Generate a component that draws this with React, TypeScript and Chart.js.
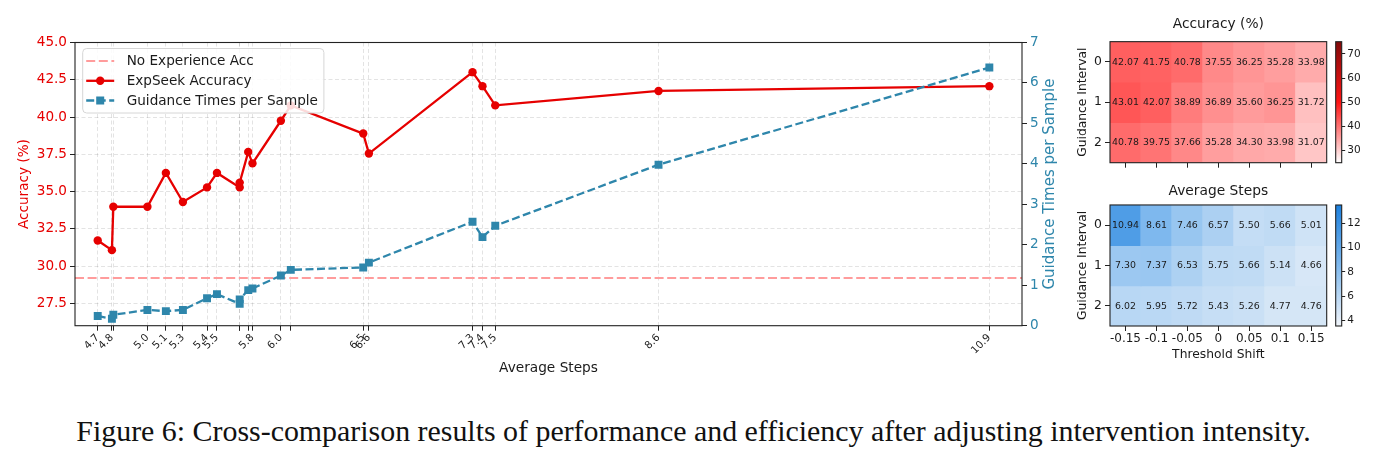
import React, { useEffect, useRef } from "react";
import { Chart, registerables } from "chart.js";

Chart.register(...registerables);

const FONT = "'DejaVu Sans', 'Noto Sans', sans-serif";
Chart.defaults.font.family = FONT;

// ---------------- line chart data ----------------
const avgSteps = [4.66, 4.76, 4.77, 5.01, 5.14, 5.26, 5.43, 5.5, 5.66, 5.66, 5.72, 5.75, 5.95, 6.02, 6.53, 6.57, 7.3, 7.37, 7.46, 8.61, 10.94];
const expSeekAccuracy = [31.72, 31.07, 33.98, 33.98, 36.25, 34.3, 35.28, 36.25, 35.28, 35.6, 37.66, 36.89, 39.75, 40.78, 38.89, 37.55, 43.01, 42.07, 40.78, 41.75, 42.07];
const guidanceTimes = [0.24, 0.17, 0.27, 0.39, 0.36, 0.39, 0.68, 0.78, 0.54, 0.65, 0.88, 0.92, 1.24, 1.38, 1.44, 1.56, 2.57, 2.19, 2.47, 3.98, 6.38];
const stepTickLabels = ["4.7", "4.8", "", "5.0", "5.1", "5.3", "5.4", "5.5", "", "", "", "5.8", "6.0", "", "6.5", "6.6", "7.3", "7.4", "7.5", "8.6", "10.9"];
const noExperienceAcc = 29.2;
const accuracyTicks = [27.5, 30, 32.5, 35, 37.5, 40, 42.5, 45];
const guidanceTicks = [0, 1, 2, 3, 4, 5, 6, 7];
const accuracyAxisRange = [26, 45];
const guidanceAxisRange = [0, 7];
const stepsAxisRange = [4.5, 11.17];

const LABEL_NO_EXP = "No Experience Acc";
const LABEL_ACC = "ExpSeek Accuracy";
const LABEL_GUIDE = "Guidance Times per Sample";

// ---------------- heatmap data ----------------
const thresholdShifts = ["-0.15", "-0.1", "-0.05", "0", "0.05", "0.1", "0.15"];
const guidanceIntervals = ["0", "1", "2"];
const accuracyRow0 = [42.07, 41.75, 40.78, 37.55, 36.25, 35.28, 33.98];
const accuracyRow1 = [43.01, 42.07, 38.89, 36.89, 35.6, 36.25, 31.72];
const accuracyRow2 = [40.78, 39.75, 37.66, 35.28, 34.3, 33.98, 31.07];
const stepsRow0 = [10.94, 8.61, 7.46, 6.57, 5.5, 5.66, 5.01];
const stepsRow1 = [7.3, 7.37, 6.53, 5.75, 5.66, 5.14, 4.66];
const stepsRow2 = [6.02, 5.95, 5.72, 5.43, 5.26, 4.77, 4.76];
const accuracyColorRange = [25, 75];
const stepsColorRange = [3.55, 13.5];
const accuracyColorbarTicks = [30, 40, 50, 60, 70];
const stepsColorbarTicks = [4, 6, 8, 10, 12];

// ---------------- styles ----------------
const RED = "#e60000";
const BLUE = "#2e86ab";
const PINK = "#ff9c9c";
const GRID = "rgba(0,0,0,0.14)";
const INK = "#1a1a1a";

type Stop = [number, number[]];
const redStops: Stop[] = [[0, [255, 255, 255]], [0.5, [255, 20, 20]], [1, [130, 10, 10]]];
const blueStops: Stop[] = [[0, [240, 244, 249]], [0.5, [128, 185, 238]], [1, [28, 128, 222]]];

function cmap(stops: Stop[], t: number) {
  t = Math.max(0, Math.min(1, t));
  for (let i = 1; i < stops.length; i++) {
    const [p1, c1] = stops[i];
    const [p0, c0] = stops[i - 1];
    if (t <= p1) {
      const f = (t - p0) / (p1 - p0);
      const c = c0.map((v, k) => Math.round(v + (c1[k] - v) * f));
      return `rgb(${c[0]},${c[1]},${c[2]})`;
    }
  }
  const c = stops[stops.length - 1][1];
  return `rgb(${c[0]},${c[1]},${c[2]})`;
}

const framePlugin = {
  id: "frame",
  afterDraw(chart: any) {
    const { ctx, chartArea: a } = chart;
    ctx.save();
    ctx.strokeStyle = "#222";
    ctx.lineWidth = 1.1;
    ctx.strokeRect(a.left, a.top, a.right - a.left, a.bottom - a.top);
    ctx.restore();
  },
};

const baselinePlugin = {
  id: "baseline",
  beforeDatasetsDraw(chart: any) {
    const { ctx, chartArea: a } = chart;
    const y = chart.scales.y.getPixelForValue(noExperienceAcc);
    ctx.save();
    ctx.strokeStyle = PINK;
    ctx.lineWidth = 2;
    ctx.setLineDash([9, 3.6]);
    ctx.beginPath();
    ctx.moveTo(a.left, y);
    ctx.lineTo(a.right, y);
    ctx.stroke();
    ctx.restore();
  },
};

const legendPlugin = {
  id: "mplLegend",
  afterDraw(chart: any) {
    const { ctx, chartArea: a } = chart;
    const x0 = a.left + 7.7;
    const y0 = a.top + 6;
    ctx.save();
    ctx.font = `13.6px ${FONT}`;
    const labels = [LABEL_NO_EXP, LABEL_ACC, LABEL_GUIDE];
    const tw = Math.max(...labels.map((l) => ctx.measureText(l).width));
    const w = 44 + tw + 6;
    const h = 64.5;
    const r = 4;
    ctx.beginPath();
    ctx.moveTo(x0 + r, y0);
    ctx.arcTo(x0 + w, y0, x0 + w, y0 + h, r);
    ctx.arcTo(x0 + w, y0 + h, x0, y0 + h, r);
    ctx.arcTo(x0, y0 + h, x0, y0, r);
    ctx.arcTo(x0, y0, x0 + w, y0, r);
    ctx.closePath();
    ctx.fillStyle = "rgba(255,255,255,0.85)";
    ctx.fill();
    ctx.strokeStyle = "#d6d6d6";
    ctx.lineWidth = 1;
    ctx.stroke();
    labels.forEach((label, i) => {
      const cy = y0 + 12.6 + i * 19.7;
      const hx0 = x0 + 3.5;
      const hx1 = x0 + 31.5;
      const cx = (hx0 + hx1) / 2;
      ctx.save();
      ctx.lineWidth = i === 0 ? 2 : 2.3;
      ctx.strokeStyle = i === 0 ? PINK : i === 1 ? RED : BLUE;
      ctx.setLineDash(i === 1 ? [] : i === 0 ? [9, 3.6] : [8, 3.5]);
      ctx.beginPath();
      ctx.moveTo(hx0, cy);
      ctx.lineTo(hx1, cy);
      ctx.stroke();
      ctx.restore();
      if (i === 1) {
        ctx.fillStyle = RED;
        ctx.beginPath();
        ctx.arc(cx, cy, 4.2, 0, Math.PI * 2);
        ctx.fill();
      } else if (i === 2) {
        ctx.fillStyle = BLUE;
        ctx.fillRect(cx - 4, cy - 4, 8, 8);
      }
      ctx.fillStyle = INK;
      ctx.textBaseline = "middle";
      ctx.textAlign = "left";
      ctx.fillText(label, x0 + 44, cy + 0.5);
    });
    ctx.restore();
  },
};

const rightTitlePlugin = {
  id: "rightTitle",
  afterDraw(chart: any) {
    const { ctx, chartArea: a } = chart;
    ctx.save();
    ctx.translate(a.right + 28, (a.top + a.bottom) / 2);
    ctx.rotate(-Math.PI / 2);
    ctx.font = `15px ${FONT}`;
    ctx.fillStyle = BLUE;
    ctx.textAlign = "center";
    ctx.textBaseline = "middle";
    ctx.fillText(LABEL_GUIDE, 0, 0);
    ctx.restore();
  },
};

const cellLabelPlugin = {
  id: "cellLabels",
  afterDatasetsDraw(chart: any) {
    const { ctx } = chart;
    ctx.save();
    ctx.font = `9.4px ${FONT}`;
    ctx.fillStyle = INK;
    ctx.textAlign = "center";
    ctx.textBaseline = "middle";
    chart.data.datasets.forEach((ds: any, i: number) => {
      const meta = chart.getDatasetMeta(i);
      meta.data.forEach((el: any, j: number) => {
        const p = el.getProps(["x", "y", "base"], true);
        ctx.fillText(ds.values[j].toFixed(2), p.x, (p.y + p.base) / 2 + 0.5);
      });
    });
    ctx.restore();
  },
};

function mainConfig(): any {
  const gridOpts = { color: GRID, lineWidth: 0.8, tickColor: "#222", tickLength: 5, tickWidth: 1 };
  return {
    type: "line",
    data: {
      datasets: [
        {
          label: LABEL_GUIDE,
          data: avgSteps.map((x, i) => ({ x, y: guidanceTimes[i] })),
          yAxisID: "y1",
          borderColor: BLUE,
          backgroundColor: BLUE,
          borderWidth: 2.3,
          borderDash: [8, 3.5],
          pointStyle: "rect",
          pointRadius: 5.6,
          pointBorderWidth: 0,
          tension: 0,
          order: 0,
        },
        {
          label: LABEL_ACC,
          data: avgSteps.map((x, i) => ({ x, y: expSeekAccuracy[i] })),
          yAxisID: "y",
          borderColor: RED,
          backgroundColor: RED,
          borderWidth: 2.3,
          pointStyle: "circle",
          pointRadius: 4.2,
          pointBorderWidth: 0,
          tension: 0,
          order: 1,
        },
      ],
    },
    options: {
      animation: false,
      responsive: false,
      maintainAspectRatio: false,
      layout: { padding: { top: 42.5, left: 0, right: 0, bottom: 0 } },
      plugins: { legend: { display: false }, tooltip: { enabled: false }, title: { display: false } },
      scales: {
        x: {
          type: "linear",
          min: stepsAxisRange[0],
          max: stepsAxisRange[1],
          afterBuildTicks: (s: any) => {
            s.ticks = avgSteps.map((v) => ({ value: v }));
          },
          afterFit: (s: any) => {
            s.height = 64.3;
          },
          ticks: {
            autoSkip: false,
            minRotation: 45,
            maxRotation: 45,
            padding: 1,
            color: INK,
            font: { size: 10.3 },
            callback: (_v: any, i: number) => stepTickLabels[i],
          },
          grid: gridOpts,
          border: { display: false, dash: [4, 2.5] },
          title: { display: true, text: "Average Steps", color: INK, font: { size: 13.7 }, padding: { top: 0, bottom: 13.8 } },
        },
        y: {
          type: "linear",
          position: "left",
          min: accuracyAxisRange[0],
          max: accuracyAxisRange[1],
          afterBuildTicks: (s: any) => {
            s.ticks = accuracyTicks.map((v) => ({ value: v }));
          },
          afterFit: (s: any) => {
            s.width = 75;
          },
          ticks: { color: RED, font: { size: 13.6 }, padding: 3, callback: (v: any) => Number(v).toFixed(1) },
          grid: gridOpts,
          border: { display: false, dash: [4, 2.5] },
          title: { display: true, text: "Accuracy (%)", color: RED, font: { size: 13.6 }, padding: { top: 16.8, bottom: 0 } },
        },
        y1: {
          type: "linear",
          position: "right",
          min: guidanceAxisRange[0],
          max: guidanceAxisRange[1],
          afterBuildTicks: (s: any) => {
            s.ticks = guidanceTicks.map((v) => ({ value: v }));
          },
          afterFit: (s: any) => {
            s.width = 53;
          },
          ticks: { color: BLUE, font: { size: 13.6 }, padding: 3 },
          grid: { ...gridOpts, drawOnChartArea: false },
          border: { display: false },
        },
      },
    },
    plugins: [baselinePlugin, framePlugin, legendPlugin, rightTitlePlugin],
  };
}

function heatmapConfig(rows: number[][], stops: Stop[], range: number[], title: string, showX: boolean, titlePad: any, xHeight: number): any {
  return {
    type: "bar",
    data: {
      labels: thresholdShifts,
      datasets: rows.map((row, r) => ({
        label: guidanceIntervals[r],
        values: row,
        data: row.map(() => [r, r + 1]),
        backgroundColor: (c: any) => cmap(stops, (row[c.dataIndex] - range[0]) / (range[1] - range[0])),
        borderWidth: 0,
        barPercentage: 1,
        categoryPercentage: 1,
        grouped: false,
        inflateAmount: 0.6,
      })),
    },
    options: {
      animation: false,
      responsive: false,
      maintainAspectRatio: false,
      layout: { padding: { left: 0, right: 5.3, top: 0, bottom: 0 } },
      plugins: {
        legend: { display: false },
        tooltip: { enabled: false },
        title: { display: true, text: title, color: INK, fullSize: false, font: { size: 13.8, weight: "normal" }, padding: titlePad },
      },
      scales: {
        x: {
          type: "category",
          offset: true,
          afterFit: (s: any) => {
            s.height = xHeight;
          },
          grid: { offset: false, drawOnChartArea: false, tickLength: 5, tickColor: "#222", tickWidth: 1 },
          border: { display: false },
          ticks: { display: showX, color: INK, font: { size: 12 }, padding: 1, autoSkip: false, maxRotation: 0 },
          title: showX
            ? { display: true, text: "Threshold Shift", color: INK, font: { size: 12.3 }, padding: { top: 0, bottom: 7.6 } }
            : { display: false },
        },
        y: {
          type: "linear",
          min: 0,
          max: guidanceIntervals.length,
          reverse: true,
          afterBuildTicks: (s: any) => {
            s.ticks = guidanceIntervals.map((_g, i) => ({ value: i + 0.5 }));
          },
          afterFit: (s: any) => {
            s.width = 50;
          },
          ticks: { color: INK, font: { size: 12.4 }, padding: 3, callback: (_v: any, i: number) => guidanceIntervals[i] },
          grid: { drawOnChartArea: false, tickLength: 5, tickColor: "#222", tickWidth: 1 },
          border: { display: false },
          title: { display: true, text: "Guidance Interval", color: INK, font: { size: 12.3 }, padding: { top: 15.5, bottom: 0 } },
        },
      },
    },
    plugins: [cellLabelPlugin, framePlugin],
  };
}

function colorbarConfig(stops: Stop[], range: number[], ticks: number[], pad: any): any {
  return {
    type: "bar",
    data: {
      labels: [""],
      datasets: [
        {
          data: [[range[0], range[1]]],
          backgroundColor: (c: any) => {
            const chart = c.chart;
            const a = chart.chartArea;
            if (!a) return "transparent";
            const g = chart.ctx.createLinearGradient(0, a.bottom, 0, a.top);
            for (let i = 0; i <= 20; i++) g.addColorStop(i / 20, cmap(stops, i / 20));
            return g;
          },
          borderWidth: 0,
          barPercentage: 1,
          categoryPercentage: 1,
        },
      ],
    },
    options: {
      animation: false,
      responsive: false,
      maintainAspectRatio: false,
      layout: { padding: pad },
      plugins: { legend: { display: false }, tooltip: { enabled: false } },
      scales: {
        x: { display: false },
        y: {
          position: "right",
          min: range[0],
          max: range[1],
          afterBuildTicks: (s: any) => {
            s.ticks = ticks.map((v) => ({ value: v }));
          },
          afterFit: (s: any) => {
            s.width = 45.3;
          },
          ticks: { color: INK, font: { size: 10.5 }, padding: 2 },
          grid: { drawOnChartArea: false, tickLength: 3.5, tickColor: "#222", tickWidth: 1 },
          border: { display: false },
        },
      },
    },
    plugins: [framePlugin],
  };
}

export default function App() {
  const mainRef = useRef<HTMLCanvasElement>(null);
  const hm1Ref = useRef<HTMLCanvasElement>(null);
  const hm2Ref = useRef<HTMLCanvasElement>(null);
  const cb1Ref = useRef<HTMLCanvasElement>(null);
  const cb2Ref = useRef<HTMLCanvasElement>(null);

  useEffect(() => {
    const charts: Chart[] = [];
    charts.push(new Chart(mainRef.current!, mainConfig()));
    charts.push(
      new Chart(
        hm1Ref.current!,
        heatmapConfig([accuracyRow0, accuracyRow1, accuracyRow2], redStops, accuracyColorRange, "Accuracy (%)", false, { top: 15.7, bottom: 9.4 }, 12.3)
      )
    );
    charts.push(
      new Chart(
        hm2Ref.current!,
        heatmapConfig([stepsRow0, stepsRow1, stepsRow2], blueStops, stepsColorRange, "Average Steps", true, { top: 13.4, bottom: 5.0 }, 44)
      )
    );
    charts.push(new Chart(cb1Ref.current!, colorbarConfig(redStops, accuracyColorRange, accuracyColorbarTicks, { left: 5.7, right: 0, top: 41.7, bottom: 12.3 })));
    charts.push(new Chart(cb2Ref.current!, colorbarConfig(blueStops, stepsColorRange, stepsColorbarTicks, { left: 5.7, right: 0, top: 35, bottom: 44 })));
    return () => charts.forEach((c) => c.destroy());
  }, []);

  const abs = (left: number, top: number): React.CSSProperties => ({ position: "absolute", left, top });

  return (
    <div style={{ position: "fixed", left: 0, top: 0, width: 1387, height: 462, background: "#fff", overflow: "hidden" }}>
      <canvas ref={mainRef} width={1075} height={390} style={abs(0, 0)} />
      <canvas ref={hm1Ref} width={272} height={175} style={abs(1060, 0)} />
      <canvas ref={hm2Ref} width={272} height={200} style={abs(1060, 170)} />
      <canvas ref={cb1Ref} width={57} height={175} style={abs(1330, 0)} />
      <canvas ref={cb2Ref} width={57} height={200} style={abs(1330, 170)} />
      <div
        style={{
          position: "absolute",
          left: 0,
          top: 414,
          width: 1387,
          textAlign: "center",
          fontFamily: "'Liberation Serif', 'Times New Roman', serif",
          fontSize: 29.9,
          lineHeight: "34px",
          color: "#111",
          whiteSpace: "nowrap",
        }}
      >
        Figure 6: Cross-comparison results of performance and efficiency after adjusting intervention intensity.
      </div>
    </div>
  );
}
